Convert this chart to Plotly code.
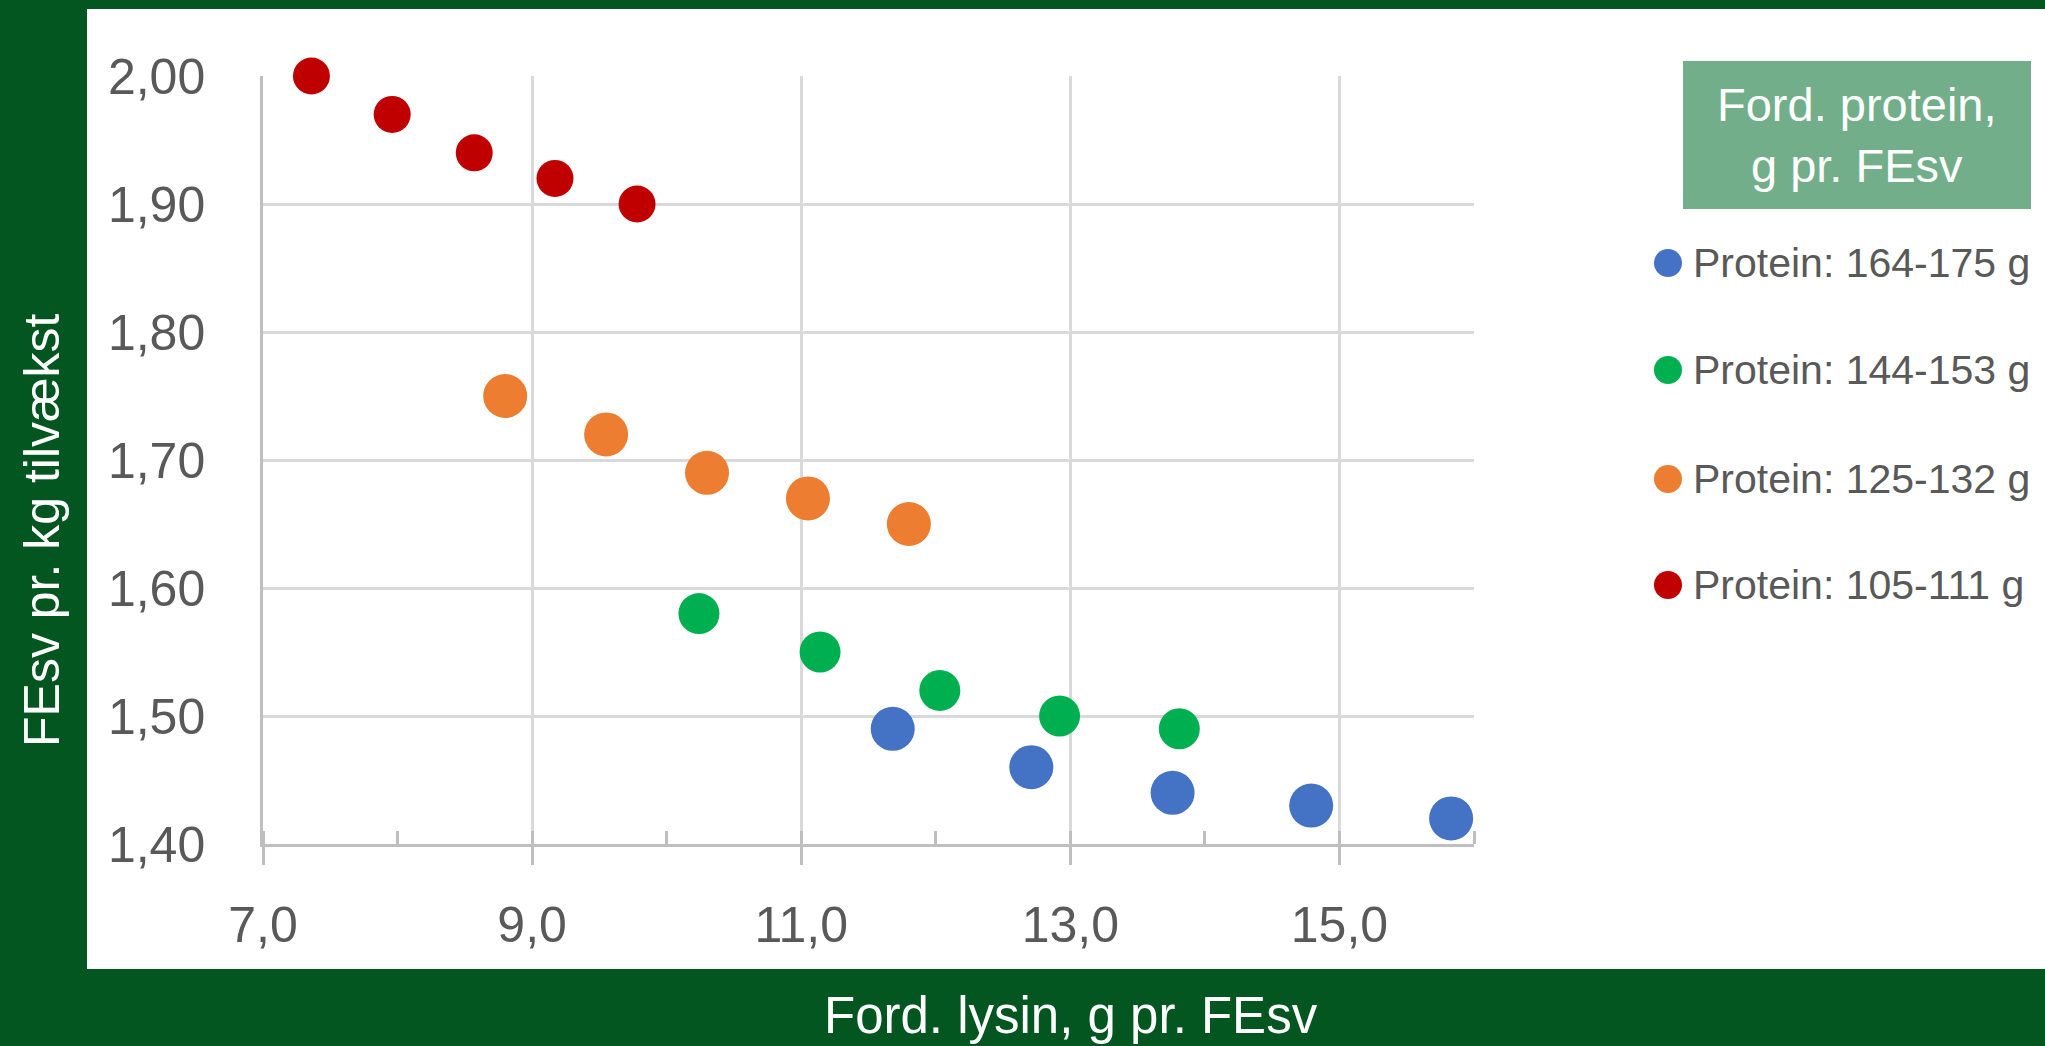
import plotly.graph_objects as go

W, H = 2045, 1046

# data
series_names = ["Protein: 164-175 g", "Protein: 144-153 g", "Protein: 125-132 g", "Protein: 105-111 g"]
series_colors = ["#4472C4", "#00B050", "#ED7D31", "#C00000"]
marker_sizes = [44, 41, 44, 37]

lysin_blue = [11.68, 12.71, 13.76, 14.79, 15.83]
fesv_blue = [1.49, 1.46, 1.44, 1.43, 1.42]
lysin_green = [10.24, 11.14, 12.03, 12.92, 13.81]
fesv_green = [1.58, 1.55, 1.52, 1.50, 1.49]
lysin_orange = [8.80, 9.55, 10.30, 11.05, 11.80]
fesv_orange = [1.75, 1.72, 1.69, 1.67, 1.65]
lysin_red = [7.36, 7.96, 8.57, 9.17, 9.78]
fesv_red = [2.00, 1.97, 1.94, 1.92, 1.90]

xs = [lysin_blue, lysin_green, lysin_orange, lysin_red]
ys = [fesv_blue, fesv_green, fesv_orange, fesv_red]

x_title = "Ford. lysin, g pr. FEsv"
y_title = "FEsv pr. kg tilvækst"
legend_title = "Ford. protein,<br>g pr. FEsv"

DARK_GREEN = "#03561F"
GRID = "#D9D9D9"
AXIS = "#BFBFBF"
TEXT = "#595959"
FONT = "Arial, Liberation Sans, sans-serif"


def px(x):
    return x / W


def py(y):
    return 1 - y / H


fig = go.Figure()
for name, color, size, x, y in zip(series_names, series_colors, marker_sizes, xs, ys):
    fig.add_trace(go.Scatter(x=x, y=y, name=name, mode='markers', cliponaxis=False,
                             marker=dict(color=color, size=size, line=dict(width=0)),
                             showlegend=False))

shapes = [
    # white panel
    dict(type='rect', xref='paper', yref='paper', x0=px(87), x1=1, y0=py(969), y1=py(9),
         fillcolor='white', line=dict(width=0), layer='below'),
    # legend header box
    dict(type='rect', xref='paper', yref='paper', x0=px(1683), x1=px(2031), y0=py(209), y1=py(61),
         fillcolor='#72AE8A', line=dict(width=0), layer='below'),
]
annotations = [
    dict(text=legend_title, x=px(1857), y=py(135), xref='paper', yref='paper', showarrow=False,
         font=dict(family=FONT, size=47, color='white'), xanchor='center', yanchor='middle'),
    dict(text=x_title, x=px(1071), y=py(1015), xref='paper', yref='paper', showarrow=False,
         font=dict(family=FONT, size=51, color='white'), xanchor='center', yanchor='middle'),
    dict(text=y_title, x=px(42), y=py(530), xref='paper', yref='paper', showarrow=False, textangle=-90,
         font=dict(family=FONT, size=50, color='white'), xanchor='center', yanchor='middle'),
]

# hand-made legend with large markers
legend_y = [263, 370, 479, 585]
for name, color, ly in zip(series_names, series_colors, legend_y):
    shapes.append(dict(type='circle', xref='paper', yref='paper',
                       x0=px(1654), x1=px(1682), y0=py(ly + 14), y1=py(ly - 14),
                       fillcolor=color, line=dict(width=0)))
    annotations.append(dict(text=name, x=px(1691), y=py(ly), xref='paper', yref='paper',
                            showarrow=False, xanchor='left', yanchor='middle',
                            font=dict(family=FONT, size=41, color=TEXT)))

fig.update_layout(
    width=W, height=H,
    margin=dict(l=0, r=0, t=0, b=0),
    paper_bgcolor=DARK_GREEN,
    plot_bgcolor='white',
    separators=',.',
    showlegend=False,
    shapes=shapes,
    annotations=annotations,
    xaxis=dict(domain=[px(263), px(1474)], range=[7, 16], tick0=7, dtick=2, tickformat='.1f',
               automargin=False,
               showgrid=True, gridcolor=GRID, gridwidth=2.5, zeroline=False,
               showline=True, linecolor=AXIS, linewidth=2.5,
               ticks='outside', ticklen=18, tickwidth=2.5, tickcolor=AXIS,
               minor=dict(dtick=1, tick0=7, ticks='inside', ticklen=13, tickwidth=2.5,
                          tickcolor=AXIS, showgrid=False),
               ticklabelstandoff=17,
               tickfont=dict(family=FONT, size=50, color=TEXT)),
    yaxis=dict(domain=[py(844), py(76)], range=[1.4, 2.0], tick0=1.4, dtick=0.1, tickformat='.2f',
               automargin=False,
               showgrid=True, gridcolor=GRID, gridwidth=2.5, zeroline=False,
               showline=True, linecolor=AXIS, linewidth=2.5,
               ticks='', ticklabelstandoff=45,
               tickfont=dict(family=FONT, size=50, color=TEXT)),
)

# drop the default page margin so the figure fills the window
fig.write_html("out.html", config={'displayModeBar': False},
               post_script="document.body.style.margin='0';document.body.style.overflow='hidden';")
